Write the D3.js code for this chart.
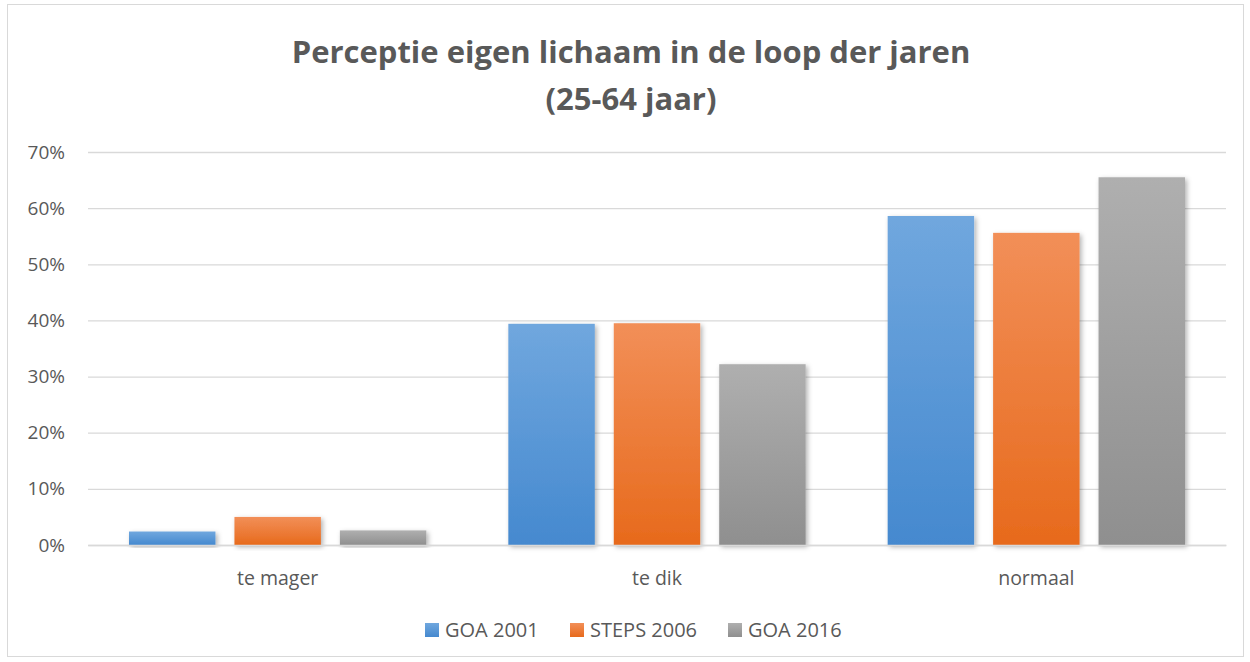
<!DOCTYPE html>
<html>
<head>
<meta charset="utf-8">
<script src="https://cdn.jsdelivr.net/npm/d3@7"></script>
<style>
  body { margin: 0; background: #fff; }
  text { font-family: "Open Sans", "Noto Sans", sans-serif; fill: #595959; }
</style>
</head>
<body>
<div id="chart"></div>
<script>
var svgWidth = 1250;
var svgHeight = 662;

// data
var categories = ["te mager", "te dik", "normaal"];
var seriesNames = ["GOA 2001", "STEPS 2006", "GOA 2016"];
var goa2001 = [2.4, 39.4, 58.6];
var steps2006 = [5.0, 39.5, 55.6];
var goa2016 = [2.6, 32.2, 65.5];
var yTicks = [0, 10, 20, 30, 40, 50, 60, 70];

var colors = [
  { top: "#70a7de", bottom: "#4589cf" },
  { top: "#f28f58", bottom: "#e76a1c" },
  { top: "#afafaf", bottom: "#8f8f8f" }
];

var margin = { top: 152, right: 24, bottom: 117, left: 88 };
var width = svgWidth - margin.left - margin.right;
var height = svgHeight - margin.top - margin.bottom;

var svg = d3.select("#chart")
  .append("svg")
  .attr("width", svgWidth)
  .attr("height", svgHeight);

var defs = svg.append("defs");
colors.forEach(function(c, i) {
  var g = defs.append("linearGradient")
    .attr("id", "grad" + i)
    .attr("x1", 0).attr("y1", 0).attr("x2", 0).attr("y2", 1);
  g.append("stop").attr("offset", "0%").attr("stop-color", c.top);
  g.append("stop").attr("offset", "100%").attr("stop-color", c.bottom);
});

var shadow = defs.append("filter")
  .attr("id", "shadow")
  .attr("x", "-20%").attr("y", "-20%")
  .attr("width", "140%").attr("height", "140%");
shadow.append("feDropShadow")
  .attr("dx", 2).attr("dy", 2)
  .attr("stdDeviation", 2.5)
  .attr("flood-color", "#000")
  .attr("flood-opacity", 0.3);

// chart border
svg.append("rect")
  .attr("x", 7.5).attr("y", 4.5)
  .attr("width", 1236).attr("height", 652)
  .attr("fill", "none")
  .attr("stroke", "#d9d9d9");

// title
var title = svg.append("text")
  .attr("text-anchor", "middle")
  .attr("font-size", "31px")
  .attr("font-weight", "bold");
title.append("tspan").attr("x", 631).attr("y", 63).text("Perceptie eigen lichaam in de loop der jaren");
title.append("tspan").attr("x", 631).attr("y", 110).text("(25-64 jaar)");

var chartGroup = svg.append("g")
  .attr("transform", `translate(${margin.left}, ${margin.top})`);

var xScale = d3.scaleBand()
  .domain(categories)
  .range([0, width])
  .paddingInner(0)
  .paddingOuter(0);

var xInner = d3.scaleBand()
  .domain(seriesNames)
  .range([41, xScale.bandwidth() - 41])
  .paddingInner(0.18)
  .paddingOuter(0);

var yScale = d3.scaleLinear()
  .domain([0, 70])
  .range([height, 0]);

// gridlines
var leftAxis = d3.axisLeft(yScale)
  .tickValues(yTicks)
  .tickSize(-width)
  .tickPadding(23)
  .tickFormat(d => d + "%");

var yAxisG = chartGroup.append("g").call(leftAxis);
yAxisG.select(".domain").remove();
yAxisG.selectAll("line").attr("stroke", "#d9d9d9").attr("stroke-width", 1.3);
yAxisG.selectAll("text")
  .attr("font-size", "19px")
  .style("font-family", "'Open Sans', 'Noto Sans', sans-serif")
  .attr("fill", "#595959");

var seriesData = [goa2001, steps2006, goa2016];
var rows = categories.map(function(c, i) {
  return { cat: c, values: seriesData.map(function(s, j) { return { name: seriesNames[j], idx: j, value: s[i] }; }) };
});

var groups = chartGroup.selectAll(".grp")
  .data(rows)
  .enter()
  .append("g")
  .attr("transform", d => `translate(${xScale(d.cat)}, 0)`);

groups.selectAll("rect")
  .data(d => d.values)
  .enter()
  .append("rect")
  .attr("x", d => xInner(d.name))
  .attr("y", d => yScale(d.value))
  .attr("width", xInner.bandwidth())
  .attr("height", d => height - yScale(d.value))
  .attr("fill", d => `url(#grad${d.idx})`)
  .attr("filter", "url(#shadow)");

// category labels
var bottomAxis = d3.axisBottom(xScale).tickSize(0).tickPadding(26);
var xAxisG = chartGroup.append("g")
  .attr("transform", `translate(0, ${height})`)
  .call(bottomAxis);
xAxisG.select(".domain").attr("stroke", "#d9d9d9").attr("stroke-width", 1.3);
xAxisG.selectAll("text")
  .attr("font-size", "19.5px")
  .style("font-family", "'Open Sans', 'Noto Sans', sans-serif")
  .attr("fill", "#595959");

// legend
var legendX = [425, 570, 728];
var legend = svg.selectAll(".legend")
  .data(seriesNames)
  .enter()
  .append("g")
  .attr("transform", (d, i) => `translate(${legendX[i]}, 623)`);

legend.append("rect")
  .attr("width", 14).attr("height", 14)
  .attr("fill", (d, i) => `url(#grad${i})`);

legend.append("text")
  .attr("x", 20)
  .attr("y", 14)
  .attr("font-size", "20px")
  .text(d => d);
</script>
</body>
</html>
